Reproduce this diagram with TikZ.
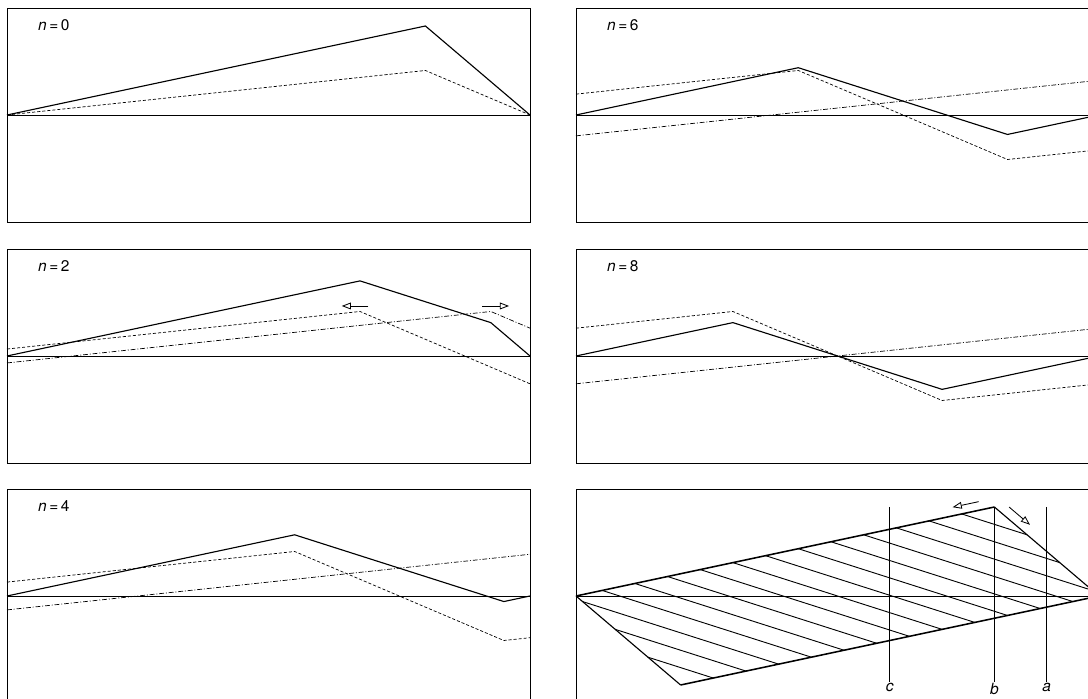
\documentclass[tikz,border=0pt]{standalone}
\usepackage{fontspec}
\setmainfont{TeX Gyre Heros}
\usetikzlibrary{arrows.meta}

\begin{document}
\begin{tikzpicture}[every node/.style={font=\fontsize{11}{13}\selectfont},
  frame/.style={line width=0.6pt},
  total/.style={line width=0.8pt},
  leftgoing/.style={line width=0.5pt, dash pattern=on 2.2pt off 1.4pt},
  rightgoing/.style={line width=0.5pt, dash pattern=on 3.5pt off 1.3pt on 0.7pt off 1.3pt},
  drift/.style={line width=0.6pt, -{Triangle[open,length=2.3mm,width=1.7mm]}},
  edge/.style={line width=1.1pt},
  flank/.style={line width=0.8pt},
  hatch/.style={line width=0.65pt}]
\useasboundingbox (0,0) rectangle (27.2,17.475);
\clip (0,0) rectangle (27.2,17.475);

% n = 0
\begin{scope}[xshift=0.175cm, yshift=14.6cm, x=13.075cm, y=2.225cm]
\draw[frame] (0,-1.2022) rectangle (1,1.2022);
\draw[frame] (0,0) -- (1,0);
\node[anchor=base west] (t0) at (0.05,0.95) {\textit{n}\,=\,0};
\draw[total] (0,0) -- (0.8,1) -- (1,0);
\draw[leftgoing] (0,0) -- (0.8,0.5) -- (1,0);
\end{scope}

% n = 2
\begin{scope}[xshift=0.175cm, yshift=8.575cm, x=13.075cm, y=2.225cm]
\draw[frame] (0,-1.2022) rectangle (1,1.2022);
\draw[frame] (0,0) -- (1,0);
\node[anchor=base west] (t2) at (0.05,0.95) {\textit{n}\,=\,2};
\draw[total] (0,0) -- (0.675,0.84375) -- (0.925,0.375) -- (1,0);
\draw[leftgoing] (0,0.078125) -- (0.675,0.5) -- (1,-0.3125);
\draw[rightgoing] (0,-0.078125) -- (0.925,0.5) -- (1,0.3125);
\draw[drift] (0.691,0.562) -- (0.640,0.562);
\draw[drift] (0.909,0.562) -- (0.960,0.562);
\end{scope}

% n = 4
\begin{scope}[xshift=0.175cm, yshift=2.575cm, x=13.075cm, y=2.225cm]
\draw[frame] (0,-1.2022) rectangle (1,1.2022);
\draw[frame] (0,0) -- (1,0);
\node[anchor=base west] (t4) at (0.05,0.95) {\textit{n}\,=\,4};
\draw[total] (0,0) -- (0.55,0.6875) -- (0.95,-0.0625) -- (1,0);
\draw[leftgoing] (0,0.15625) -- (0.55,0.5) -- (0.95,-0.5) -- (1,-0.46875);
\draw[rightgoing] (0,-0.15625) -- (1,0.46875);
\end{scope}

% n = 6
\begin{scope}[xshift=14.4cm, yshift=14.6cm, x=13.075cm, y=2.225cm]
\draw[frame] (0,-1.2022) rectangle (1,1.2022);
\draw[frame] (0,0) -- (1,0);
\node[anchor=base west] (t6) at (0.05,0.95) {\textit{n}\,=\,6};
\draw[total] (0,0) -- (0.425,0.53125) -- (0.825,-0.21875) -- (1,0);
\draw[leftgoing] (0,0.234375) -- (0.425,0.5) -- (0.825,-0.5) -- (1,-0.390625);
\draw[rightgoing] (0,-0.234375) -- (1,0.390625);
\end{scope}

% n = 8
\begin{scope}[xshift=14.4cm, yshift=8.575cm, x=13.075cm, y=2.225cm]
\draw[frame] (0,-1.2022) rectangle (1,1.2022);
\draw[frame] (0,0) -- (1,0);
\node[anchor=base west] (t8) at (0.05,0.95) {\textit{n}\,=\,8};
\draw[total] (0,0) -- (0.3,0.375) -- (0.7,-0.375) -- (1,0);
\draw[leftgoing] (0,0.3125) -- (0.3,0.5) -- (0.7,-0.5) -- (1,-0.3125);
\draw[rightgoing] (0,-0.3125) -- (1,0.3125);
\end{scope}

% envelope
\begin{scope}[xshift=14.4cm, yshift=2.575cm, x=13.075cm, y=2.225cm]
\draw[frame] (0,-1.2022) rectangle (1,1.2022);
\draw[frame] (0,0) -- (1,0);
\begin{scope}
\clip (0,0) -- (0.8,1) -- (1,0) -- (0.2,-1) -- cycle;
\foreach \k in {1,...,15}
  \draw[hatch] ({0.8-\k/16-0.5},{1-1.25*\k/16+0.9375}) -- ++(1,-1.875);
\end{scope}
\draw[edge] (0,0) -- (0.8,1);
\draw[edge] (0.2,-1) -- (1,0);
\draw[flank] (0.8,1) -- (1,0);
\draw[flank] (0,0) -- (0.2,-1);
\node[anchor=north, inner sep=0.5pt] (lc) at (0.6,-0.97) {\textit{c}};
\node[anchor=north, inner sep=0.5pt] (lb) at (0.8,-0.97) {\textit{b}};
\node[anchor=north, inner sep=0.5pt] (la) at (0.9,-0.97) {\textit{a}};
\draw[frame] (0.6,1) -- (lc.north);
\draw[frame] (0.8,1) -- (lb.north);
\draw[frame] (0.9,1) -- (la.north);
\draw[drift] (0.77,1.06) -- (0.72,0.9975);
\draw[drift] (0.828,1.0) -- (0.868,0.8);
\end{scope}
\end{tikzpicture}
\end{document}
